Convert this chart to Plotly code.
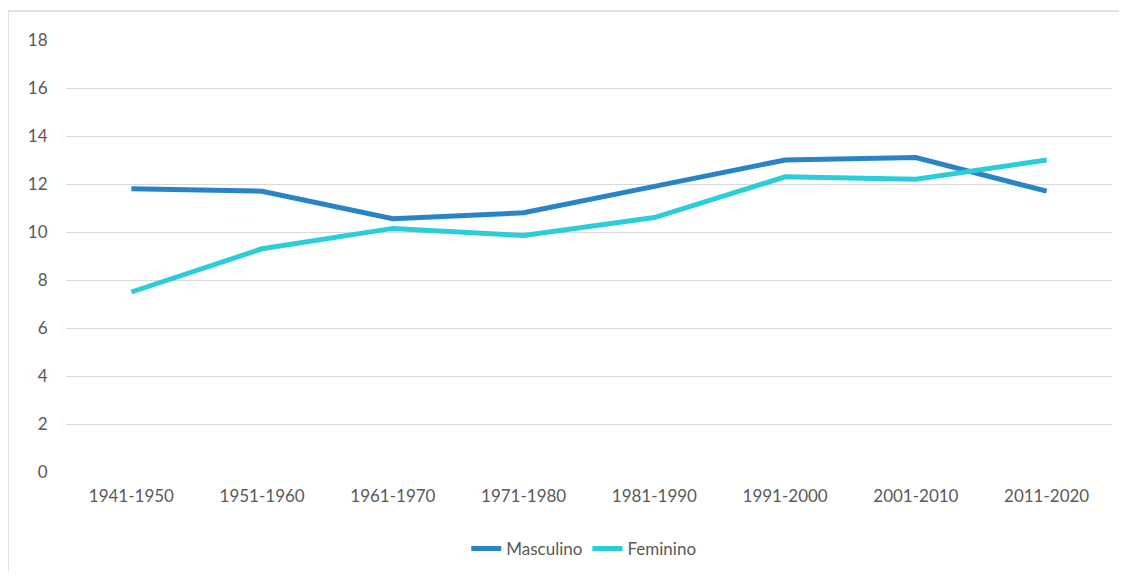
import plotly.graph_objects as go

categories = ["1941-1950", "1951-1960", "1961-1970", "1971-1980", "1981-1990", "1991-2000", "2001-2010", "2011-2020"]
masculino = [11.8, 11.7, 10.55, 10.8, 11.9, 13.0, 13.1, 11.7]
feminino = [7.5, 9.3, 10.15, 9.85, 10.6, 12.3, 12.2, 13.0]
y_ticks = [0, 2, 4, 6, 8, 10, 12, 14, 16, 18]

font_family = "Lato, 'Open Sans', sans-serif"
text_color = "#595959"
fs = 17
border = dict(color="#D9D9D9", width=1.5)

fig = go.Figure()
fig.add_trace(go.Scatter(x=categories, y=masculino, name="Masculino", mode="lines",
                         line=dict(color="#2784C7", width=5)))
fig.add_trace(go.Scatter(x=categories, y=feminino, name="Feminino", mode="lines",
                         line=dict(color="#2BCDD8", width=5)))

fig.update_layout(
    width=1111, height=563,
    margin=dict(l=58, r=7, t=32, b=99, autoexpand=False),
    paper_bgcolor="white", plot_bgcolor="white",
    font=dict(family=font_family, size=fs, color=text_color),
    showlegend=True,
    legend=dict(orientation="h", x=0.495, xanchor="center", yref="container", y=0.039, yanchor="middle",
                font=dict(size=fs, color=text_color)),
    xaxis=dict(range=[-0.5, 7.5], showgrid=False, showline=False, ticks="outside", ticklen=9,
               tickcolor="rgba(0,0,0,0)", zeroline=False, automargin=False,
               tickfont=dict(size=fs, color=text_color)),
    yaxis=dict(range=[0, 18], tickvals=y_ticks, showgrid=True, gridcolor="#D9D9D9",
               gridwidth=1, zeroline=False, showline=False, ticks="outside",
               ticklen=14, tickcolor="rgba(0,0,0,0)", automargin=False,
               tickfont=dict(size=fs, color=text_color)),
    shapes=[
        dict(type="line", xref="paper", yref="paper", x0=-0.0554, x1=1.2, y0=1.067, y1=1.067,
             line=border, layer="below"),
        dict(type="line", xref="paper", yref="paper", x0=-0.0554, x1=-0.0554, y0=-0.3, y1=1.067,
             line=border, layer="below"),
    ],
)

fig.write_html("out.html")
